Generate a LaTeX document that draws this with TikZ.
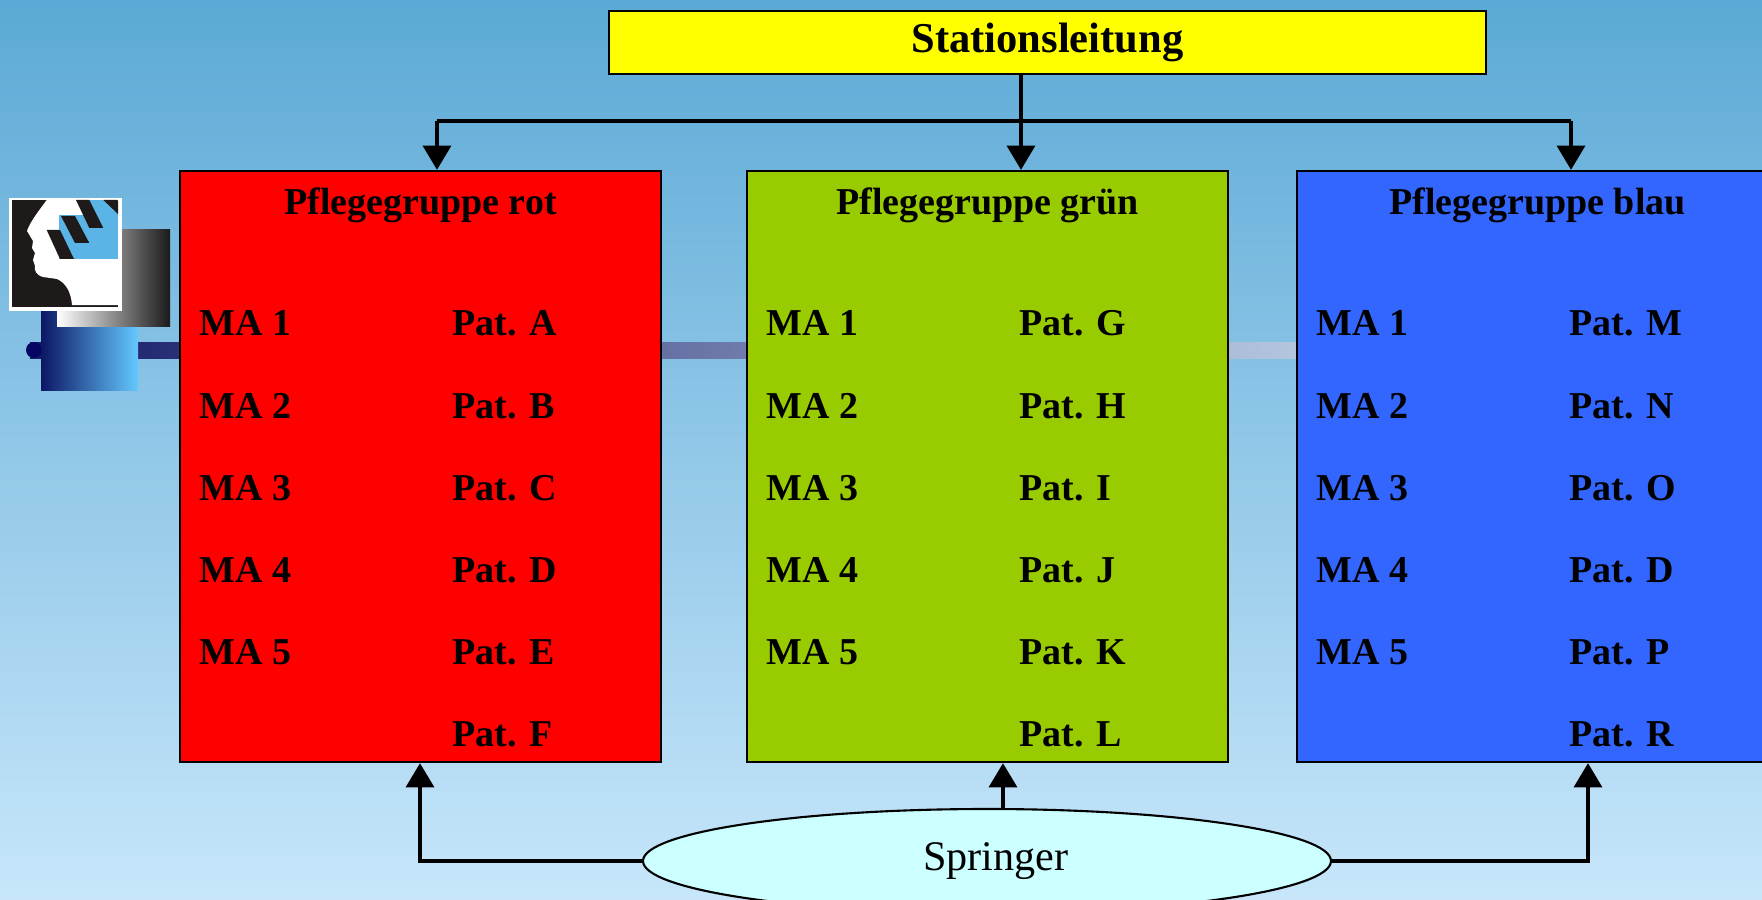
\documentclass[tikz,border=0pt]{standalone}
\usepackage{fontspec}
\setmainfont{Liberation Serif}
\usetikzlibrary{shapes.geometric,arrows.meta}

\definecolor{bgtop}{RGB}{91,169,214}
\definecolor{bgbot}{RGB}{199,230,250}
\definecolor{grprot}{RGB}{255,0,0}
\definecolor{grpgruen}{RGB}{153,204,0}
\definecolor{grpblau}{RGB}{51,102,255}
\definecolor{leitung}{RGB}{255,255,0}
\definecolor{springer}{RGB}{204,255,255}
\definecolor{barnavy}{RGB}{22,28,104}
\definecolor{barlight}{RGB}{180,198,222}
\definecolor{capnavy}{RGB}{5,5,100}
\definecolor{logoblue}{RGB}{90,180,230}
\definecolor{logoblack}{RGB}{30,26,26}
\definecolor{cubenavy}{RGB}{12,22,100}
\definecolor{cubesky}{RGB}{100,200,255}

\begin{document}
\begin{tikzpicture}[x=0.1mm,y=-0.1mm,
        grp/.style={draw=black,line width=0.6pt,minimum width=48.1mm,minimum height=59.1mm,inner sep=0},
        head/.style={anchor=base,inner sep=0,font=\bfseries\fontsize{10.8}{13}\selectfont},
        row/.style={anchor=base west,inner sep=0,font=\bfseries\fontsize{10.8}{13}\selectfont},
        link/.style={line width=1.4pt},
        arr/.style={link,-{Triangle[length=6.9pt,width=7.8pt]}}]
        \clip (0,0) rectangle (1762,900);
        \shade[top color=bgtop,bottom color=bgbot] (0,0) rectangle (1762,900);

        \shade[left color=barnavy,right color=barlight] (30,342) rectangle (1297,358);
        \fill[capnavy] (34,350) circle (8);
        \shade[left color=cubenavy,right color=cubesky] (41,311) rectangle (138,390);
        \shade[left color=white,right color=black!90] (57,230) rectangle (170,326);
        \fill[white] (9,198) rectangle (122,311);
        \fill[logoblack] (12,200) rectangle (118,307);
        \fill[white] (46.7,200) -- (118,200) -- (118,305) -- (72,305)
            .. controls (71,292) and (66,283) .. (57,279) -- (43,277)
            .. controls (36,275) and (34,270) .. (35,266) -- (33,260) -- (35,253)
            -- (32,248) -- (33,241) -- (27,231)
            .. controls (30,222) and (38,212) .. (46.7,200) -- cycle;
        \fill[logoblue] (59,215) rectangle (118,259);
        \fill[logoblue] (89,200) rectangle (118,215);
        \fill[logoblack] (46.7,230) -- (60,230) -- (74,259) -- (60,259) -- cycle;
        \fill[logoblack] (61,216) -- (75,216) -- (89.3,243) -- (75,243) -- cycle;
        \fill[logoblack] (76,200) -- (89.3,200) -- (103.3,228) -- (89.3,228) -- cycle;
        \fill[logoblack] (103.3,200) -- (117,200) -- (118,201) -- (118,214) -- cycle;

        \node[draw=black,line width=0.6pt,fill=leitung,minimum width=87.7mm,minimum height=6.3mm,inner sep=0,
            font=\bfseries\fontsize{12.1}{14}\selectfont] at (1047.5,42.5) (5e21a7c3) {Stationsleitung};
        \node[grp,fill=grprot] at (420.5,466.5) (a4c190d2) {};
        \node[grp,fill=grpgruen] at (987.5,466.5) (17f3be08) {};
        \node[grp,fill=grpblau] at (1537.5,466.5) (c06d5b91) {};
        \node[draw=black,line width=0.6pt,fill=springer,ellipse,minimum width=68.8mm,minimum height=10.4mm,inner sep=0,
            font=\fontsize{12}{14}\selectfont] at (987,861) (8b2e46fa) {\hspace*{1.8mm}\raisebox{-0.9mm}{Springer}};

        \node[head] at (420.5,215) (f1d2a803) {Pflegegruppe rot};
        \node[head] at (987.5,215) (29ac6e14) {Pflegegruppe grün};
        \node[head] at (1537.5,215) (b7e05c3d) {Pflegegruppe blau};

        \node[row] at (199,336) (3a9f0e21) {MA 1};
        \node[row] at (199,418) (6d1c84b7) {MA 2};
        \node[row] at (199,500) (e08b2f5a) {MA 3};
        \node[row] at (199,582) (91f4d6c0) {MA 4};
        \node[row] at (199,664) (c5a72e18) {MA 5};
        \node[row] at (452,336) (4e6b09d3) {Pat. A};
        \node[row] at (452,418) (b218f7ac) {Pat. B};
        \node[row] at (452,500) (0d93c5e6) {Pat. C};
        \node[row] at (452,582) (7ae40b19) {Pat. D};
        \node[row] at (452,664) (f6c1283d) {Pat. E};
        \node[row] at (452,746) (285de9b4) {Pat. F};

        \node[row] at (766,336) (d41b7c02) {MA 1};
        \node[row] at (766,418) (5f08ae63) {MA 2};
        \node[row] at (766,500) (a93d2e7f) {MA 3};
        \node[row] at (766,582) (1c6f40b8) {MA 4};
        \node[row] at (766,664) (e7b5d912) {MA 5};
        \node[row] at (1019,336) (62a0c4fd) {Pat. G};
        \node[row] at (1019,418) (bb4e1937) {Pat. H};
        \node[row] at (1019,500) (08f27d5c) {Pat. I};
        \node[row] at (1019,582) (c3d96a40) {Pat. J};
        \node[row] at (1019,664) (4a15e8f2) {Pat. K};
        \node[row] at (1019,746) (97c03b6e) {Pat. L};

        \node[row] at (1316,336) (2e8d5a19) {MA 1};
        \node[row] at (1316,418) (f0b3c7e4) {MA 2};
        \node[row] at (1316,500) (6c29e05b) {MA 3};
        \node[row] at (1316,582) (d8a1f463) {MA 4};
        \node[row] at (1316,664) (35e7b0ca) {MA 5};
        \node[row] at (1569,336) (af6412d7) {Pat. M};
        \node[row] at (1569,418) (4b90ce85) {Pat. N};
        \node[row] at (1569,500) (e3c57a1f) {Pat. O};
        \node[row] at (1569,582) (12db08e6) {Pat. D};
        \node[row] at (1569,664) (8f7e3b50) {Pat. P};
        \node[row] at (1569,746) (c91a6d24) {Pat. R};

        \coordinate (70d3e9a1) at (437,121);
        \coordinate (c8d04b1e) at (1021,121);
        \coordinate (b54f2a07) at (1571,121);
        \coordinate (e2a8c61f) at (420,861);
        \coordinate (3f6b1d90) at (1003,861);
        \coordinate (9ac72e54) at (1588,861);

        \draw[link] (5e21a7c3.south -| c8d04b1e) -- (c8d04b1e);
        \draw[link] (70d3e9a1) -- (b54f2a07);
        \draw[arr] (70d3e9a1) -- (70d3e9a1 |- a4c190d2.north);
        \draw[arr] (c8d04b1e) -- (c8d04b1e |- 17f3be08.north);
        \draw[arr] (b54f2a07) -- (b54f2a07 |- c06d5b91.north);
        \draw[arr] (8b2e46fa.west) -- (e2a8c61f) -- (e2a8c61f |- a4c190d2.south);
        \draw[arr] (8b2e46fa.north -| 3f6b1d90) -- (3f6b1d90 |- 17f3be08.south);
        \draw[arr] (8b2e46fa.east) -- (9ac72e54) -- (9ac72e54 |- c06d5b91.south);
\end{tikzpicture}
\end{document}
